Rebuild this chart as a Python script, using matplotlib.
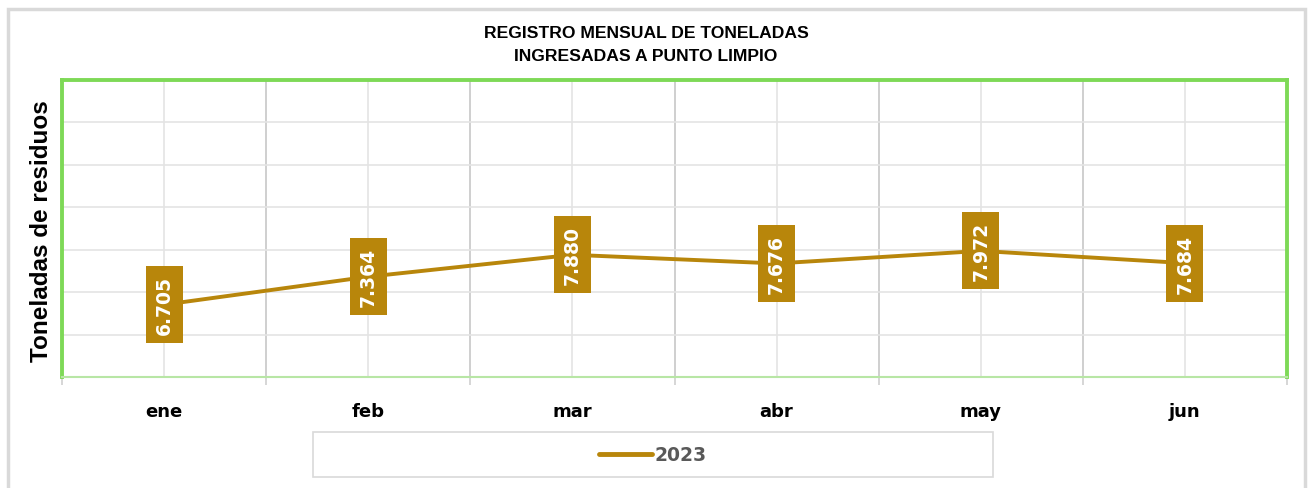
import matplotlib
matplotlib.use('Agg')
import matplotlib.pyplot as plt
from matplotlib.patches import Rectangle
import numpy as np

# data
meses = ['ene', 'feb', 'mar', 'abr', 'may', 'jun']
toneladas_2023 = [6.705, 7.364, 7.880, 7.676, 7.972, 7.684]
serie = '2023'

color_linea = '#B8860B'
verde = '#7ED957'

fig = plt.figure(figsize=(13.12, 4.89), dpi=100)
ax = fig.add_axes([62/1312, 1-378/489, (1287-62)/1312, (378-81)/489])

x = np.arange(len(meses))
ax.plot(x, toneladas_2023, color=color_linea, linewidth=2.8, label=serie,
        solid_capstyle='round', zorder=3)

for xi, v in zip(x, toneladas_2023):
    ax.text(xi, v, f'{v:.3f}', rotation=90, ha='center', va='center',
            color='white', fontsize=13.5, fontweight='bold', family='DejaVu Sans',
            bbox=dict(boxstyle='square,pad=0.48', fc=color_linea, ec='none'),
            zorder=4)

ax.set_xlim(-0.5, len(meses) - 0.5)
ax.set_ylim(5, 12)
ax.set_yticks(np.arange(5, 13, 1))
ax.set_yticklabels([])
ax.tick_params(axis='y', length=0)

ax.set_xticks(x)
ax.set_xticklabels(meses, fontsize=13, fontweight='bold', family='DejaVu Sans')
ax.set_xticks(np.arange(-0.5, len(meses), 1), minor=True)
ax.tick_params(axis='x', which='major', length=0, pad=18)
ax.tick_params(axis='x', which='minor', length=6, color='#D0D0D0', width=1.2)

ax.grid(axis='y', color='#E4E4E4', linewidth=1.2)
ax.grid(axis='x', which='major', color='#E4E4E4', linewidth=1.2)
ax.grid(axis='x', which='minor', color='#CFCFCF', linewidth=1.4)
ax.set_axisbelow(True)

for s in ax.spines.values():
    s.set_color(verde)
    s.set_linewidth(2.8)
ax.spines['bottom'].set_color('#B8E6A5')
ax.spines['bottom'].set_linewidth(1.5)

fig.text(646/1312, 1-45/489, 'REGISTRO MENSUAL DE TONELADAS\nINGRESADAS A PUNTO LIMPIO',
         ha='center', va='center', fontsize=12.6, fontweight='bold',
         family='Liberation Sans', linespacing=1.6)

fig.text(42/1312, 1-231/489, 'Toneladas de residuos', rotation=90,
         ha='center', va='center', fontsize=17.5, fontweight='bold',
         family='Liberation Sans')

# legend box and outer frame
fig.patches.append(Rectangle((313/1312, 1-478/489), (993-313)/1312, 45/489,
                             transform=fig.transFigure, fc='white', ec='#D9D9D9',
                             lw=1.2, zorder=0))
fig.patches.append(Rectangle((8/1312, -0.05), (1305-8)/1312, 1-10/489+0.05,
                             transform=fig.transFigure, fc='none', ec='#D9D9D9',
                             lw=2.5, zorder=0))

leg = fig.legend(loc='center', bbox_to_anchor=(653/1312, 1-456/489), frameon=False,
                 handlelength=2.8, handletextpad=0.15, prop=dict(size=13.5, weight='bold'))
for t in leg.get_texts():
    t.set_color('#595959')
for h in leg.get_lines():
    h.set_linewidth(3.5)

fig.savefig('out.png', dpi=100)
